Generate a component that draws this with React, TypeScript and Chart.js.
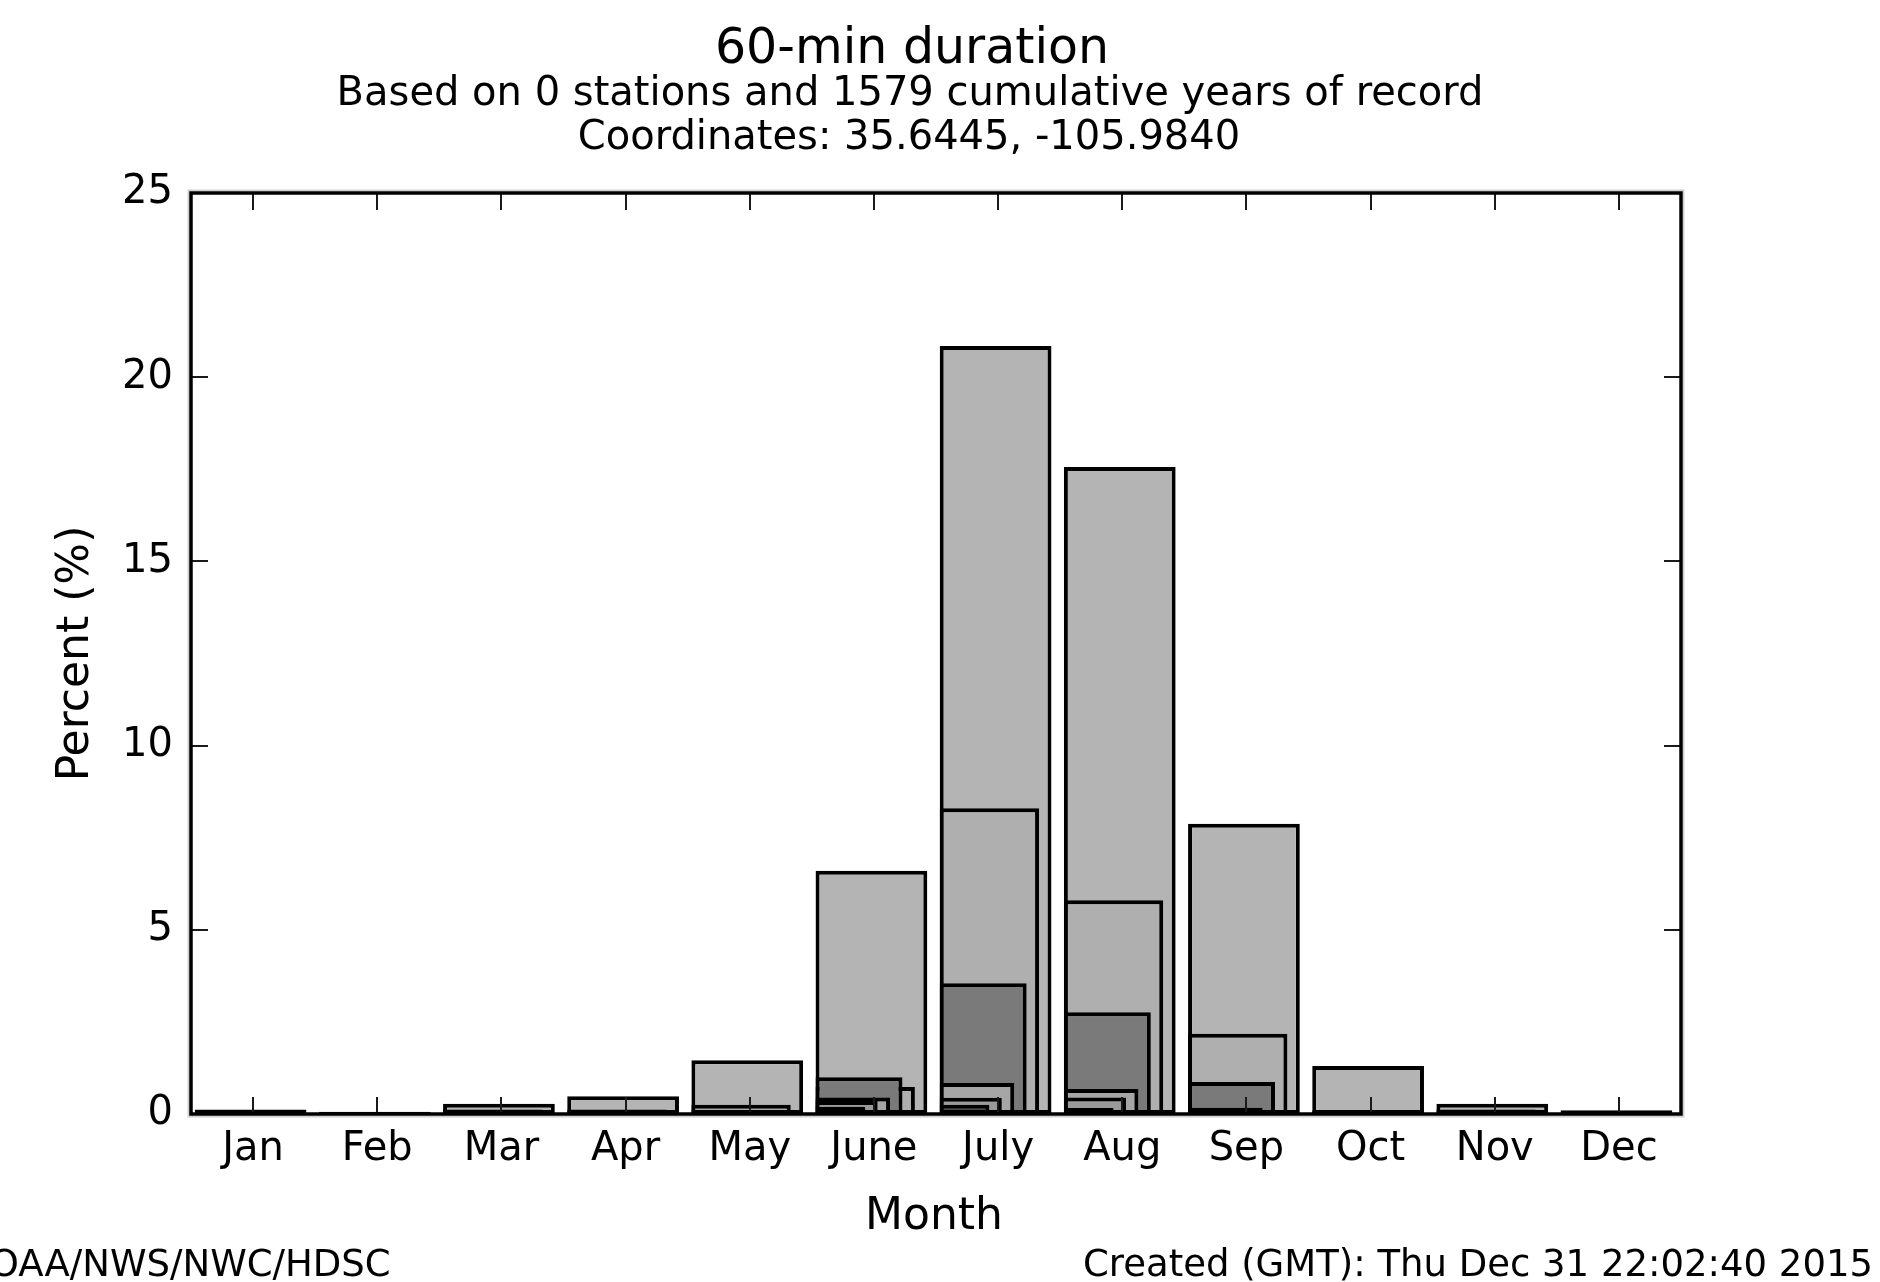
import React, { useEffect, useRef } from 'react';
import { Chart, registerables } from 'chart.js';

Chart.register(...registerables);

// ---- data ----
const months = ['Jan', 'Feb', 'Mar', 'Apr', 'May', 'June', 'July', 'Aug', 'Sep', 'Oct', 'Nov', 'Dec'];
const barWidths = [0.9, 0.8, 0.7, 0.6, 0.5, 0.4];
const series1 = [0.12, 0.06, 0.28, 0.48, 1.46, 6.6, 20.85, 17.56, 7.88, 1.3, 0.28, 0.1];
const series2 = [0.0, 0.03, 0.12, 0.12, 0.25, 0.73, 8.3, 5.8, 2.18, 0.1, 0.12, 0.0];
const series3 = [0.0, 0.0, 0.0, 0.04, 0.1, 1.0, 3.55, 2.76, 0.87, 0.0, 0.0, 0.0];
const series4 = [0.0, 0.0, 0.0, 0.0, 0.04, 0.45, 0.84, 0.68, 0.17, 0.0, 0.0, 0.0];
const series5 = [0.0, 0.0, 0.0, 0.0, 0.0, 0.35, 0.44, 0.45, 0.05, 0.0, 0.0, 0.0];
const series6 = [0.0, 0.0, 0.0, 0.0, 0.0, 0.2, 0.25, 0.16, 0.0, 0.0, 0.0, 0.0];
const seriesColors = ['#b4b4b4', '#afafaf', '#7a7a7a', '#a6a6a6', '#9a9a9a', '#4e4e4e'];
const yTicks = [0, 5, 10, 15, 20, 25];

const titleText = '60-min duration';
const subtitleLines = ['Based on 0 stations and 1579 cumulative years of record', 'Coordinates: 35.6445, -105.9840'];
const xTitle = 'Month';
const yTitle = 'Percent (%)';
const footerLeft = 'NOAA/NWS/NWC/HDSC';
const footerRight = 'Created (GMT): Thu Dec 31 22:02:40 2015';

const FONT = "'DejaVu Sans', 'Liberation Sans', sans-serif";
const X_SHIFT = 0.03;

const decorPlugin = {
  id: 'decor',
  afterDatasetsDraw(chart: any) {
    const { ctx, chartArea } = chart;
    const { left, right, top, bottom } = chartArea;
    const xs = chart.scales.x;
    const ys = chart.scales.y;
    const tl = 17;
    ctx.save();
    ctx.strokeStyle = '#1a1a1a';
    ctx.lineWidth = 2;
    ctx.beginPath();
    for (let i = 0; i < xs.ticks.length; i++) {
      const px = Math.round(xs.getPixelForTick(i));
      ctx.moveTo(px, bottom);
      ctx.lineTo(px, bottom - tl);
      ctx.moveTo(px, top);
      ctx.lineTo(px, top + tl);
    }
    yTicks.forEach((v) => {
      const py = Math.round(ys.getPixelForValue(v));
      ctx.moveTo(left, py);
      ctx.lineTo(left + tl, py);
      ctx.moveTo(right, py);
      ctx.lineTo(right - tl, py);
    });
    ctx.stroke();
    // frame with light outer halo
    ctx.strokeStyle = '#d0d0d0';
    ctx.lineWidth = 2;
    ctx.strokeRect(left - 2.5, top - 2.5, right - left + 5, bottom - top + 5);
    ctx.strokeStyle = '#000';
    ctx.lineWidth = 3.5;
    ctx.strokeRect(left, top, right - left, bottom - top);
    ctx.restore();
  },
  afterDraw(chart: any) {
    const { ctx, chartArea } = chart;
    ctx.save();
    ctx.fillStyle = '#000';
    ctx.textAlign = 'center';
    ctx.textBaseline = 'middle';
    ctx.font = `49px ${FONT}`;
    ctx.fillText(titleText, 912, 50);
    ctx.font = `40px ${FONT}`;
    ctx.fillText(subtitleLines[0], 910, 95);
    ctx.fillText(subtitleLines[1], 909, 139);
    ctx.font = `44px ${FONT}`;
    ctx.fillText(xTitle, (chartArea.left + chartArea.right) / 2 - 2, 1218);
    ctx.save();
    ctx.translate(77, (chartArea.top + chartArea.bottom) / 2);
    ctx.rotate(-Math.PI / 2);
    ctx.fillText(yTitle, 0, 0);
    ctx.restore();
    ctx.font = `37px ${FONT}`;
    ctx.textAlign = 'left';
    ctx.fillText(footerLeft, -38, 1266);
    ctx.textAlign = 'right';
    ctx.fillText(footerRight, 1873, 1266);
    ctx.restore();
  },
};

export default function App() {
  const ref = useRef<HTMLCanvasElement>(null);
  useEffect(() => {
    const canvas = ref.current;
    if (!canvas) return;
    const allSeries = [series1, series2, series3, series4, series5, series6];
    const datasets: any[] = allSeries.map((vals, k) => ({
      type: 'bar',
      label: 'Series ' + (k + 1),
      data: vals.map((v, i) => ({ x: i, y: v })),
      xAxisID: 'x' + k,
      yAxisID: 'y',
      backgroundColor: seriesColors[k],
      borderColor: '#000000',
      borderWidth: 4,
      borderSkipped: false,
      grouped: false,
      categoryPercentage: barWidths[k],
      barPercentage: 1,
      order: allSeries.length - k,
    }));
    const scales: any = {
      x: {
        type: 'category',
        position: 'bottom',
        offset: true,
        grid: { display: false, drawTicks: false },
        border: { display: false },
        ticks: { font: { family: FONT, size: 40 }, color: '#000', padding: 12, maxRotation: 0, autoSkip: false },
        afterFit: (s: any) => { s.height = 168; },
      },
      y: {
        type: 'linear',
        position: 'left',
        min: 0,
        max: 25,
        grid: { display: false, drawTicks: false },
        border: { display: false },
        ticks: { stepSize: 5, font: { family: FONT, size: 40 }, color: '#000', padding: 18 },
        afterBuildTicks: (s: any) => { s.ticks = yTicks.map((v) => ({ value: v })); },
        afterFit: (s: any) => { s.width = 191; },
      },
    };
    barWidths.forEach((w, k) => {
      scales['x' + k] = {
        type: 'linear',
        display: false,
        position: 'bottom',
        offset: false,
        grid: { offset: false },
        min: -w / 2 - X_SHIFT,
        max: months.length - w / 2 - X_SHIFT,
        afterBuildTicks: (s: any) => { s.ticks = months.map((_, i) => ({ value: i })); },
      };
    });
    const chart = new Chart(canvas, {
      type: 'bar',
      data: { labels: months, datasets },
      options: {
        responsive: false,
        animation: false,
        devicePixelRatio: 1,
        layout: { padding: { left: 0, top: 193, right: 199, bottom: 0 } },
        plugins: { legend: { display: false }, tooltip: { enabled: false }, title: { display: false } },
        scales,
      },
      plugins: [decorPlugin],
    } as any);
    return () => chart.destroy();
  }, []);
  return (
    <div style={{ position: 'fixed', left: 0, top: 0, width: 1880, height: 1282, background: '#fff' }}>
      <canvas ref={ref} width={1880} height={1282} style={{ display: 'block', width: 1880, height: 1282 }} />
    </div>
  );
}
